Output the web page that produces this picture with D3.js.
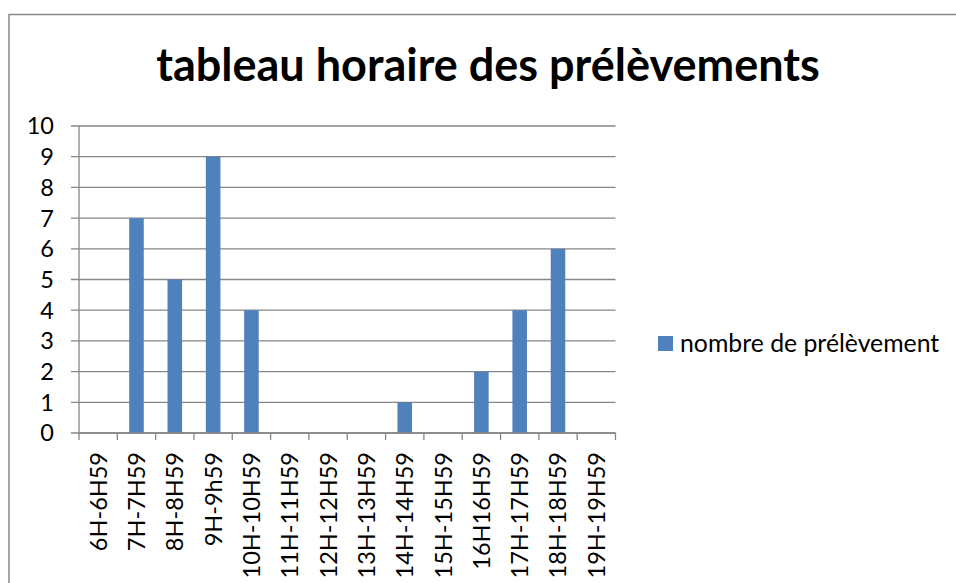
<!DOCTYPE html>
<html><head><meta charset="utf-8">
<script src="https://cdn.jsdelivr.net/npm/d3@7"></script>
<style>body{margin:0;background:#fff}svg{display:block}</style>
</head><body>
<script>
const categories = ["6H-6H59","7H-7H59","8H-8H59","9H-9h59","10H-10H59","11H-11H59","12H-12H59","13H-13H59","14H-14H59","15H-15H59","16H16H59","17H-17H59","18H-18H59","19H-19H59"];
const values = [0,7,5,9,4,0,0,0,1,0,2,4,6,0];
const yTicks = [0,1,2,3,4,5,6,7,8,9,10];
const seriesName = "nombre de prélèvement";
const title = "tableau horaire des prélèvements";

(function(){
const W = 956, H = 583;
const font = "Lato, 'Open Sans', sans-serif";
const fs = 23.5;
const svg = d3.select("body").append("svg").attr("width", W).attr("height", H);

svg.append("rect").attr("x",9).attr("y",14.5).attr("width",W+10).attr("height",H+10)
  .attr("fill","#fff").attr("stroke","#868686").attr("stroke-width",1.5);

const pL = 79, pR = 615.5, pT = 126, pB = 433;
const x = d3.scaleBand().domain(categories).range([pL,pR]).paddingInner(0.62).paddingOuter(0.31);
const xb = d3.scaleBand().domain(categories).range([pL,pR]);
const y = d3.scaleLinear().domain([0,10]).range([pB,pT]);

svg.append("g").selectAll("line").data(yTicks).join("line")
  .attr("x1",pL-8).attr("x2",pR).attr("y1",d=>y(d)).attr("y2",d=>y(d))
  .attr("stroke","#868686").attr("stroke-width",1.3);

svg.append("g").selectAll("rect").data(values).join("rect")
  .attr("x",(d,i)=>x(categories[i])).attr("width",x.bandwidth())
  .attr("y",d=>y(d)).attr("height",d=>pB-y(d)).attr("fill","#4f81bd");

svg.append("line").attr("x1",pL).attr("x2",pL).attr("y1",pT).attr("y2",pB)
  .attr("stroke","#868686").attr("stroke-width",1.3);
svg.append("g").selectAll("text").data(yTicks).join("text")
  .attr("x",54).attr("y",d=>y(d)).attr("dy","0.36em").attr("text-anchor","end")
  .attr("font-family",font).attr("font-size",fs).attr("fill","#000").text(d=>d);

const xTickPos = categories.map(c=>xb(c)).concat([pR]);
svg.append("line").attr("x1",pL).attr("x2",pR).attr("y1",pB).attr("y2",pB)
  .attr("stroke","#868686").attr("stroke-width",1.3);
svg.append("g").selectAll("line").data(xTickPos).join("line")
  .attr("x1",d=>d).attr("x2",d=>d).attr("y1",pB).attr("y2",pB+7)
  .attr("stroke","#868686").attr("stroke-width",1.3);
svg.append("g").selectAll("text").data(categories).join("text")
  .attr("transform",d=>`translate(${xb(d)+xb.bandwidth()/2},452) rotate(-90)`)
  .attr("dy","0.36em").attr("text-anchor","end")
  .attr("font-family",font).attr("font-size",fs).attr("fill","#000").text(d=>d);

svg.append("text").attr("x",488).attr("y",81).attr("text-anchor","middle")
  .attr("font-family",font).attr("font-weight","bold").attr("font-size",45).attr("fill","#000").text(title);

svg.append("rect").attr("x",658).attr("y",336).attr("width",15).attr("height",15).attr("fill","#4f81bd");
svg.append("text").attr("x",680).attr("y",343.5).attr("dy","0.36em")
  .attr("font-family",font).attr("font-size",24.8).attr("fill","#000").text(seriesName);
})();
</script>
</body></html>
